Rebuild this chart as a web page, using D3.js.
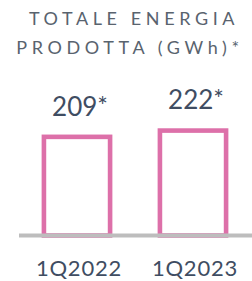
<!DOCTYPE html>
<html>
<head>
<meta charset="utf-8">
<script src="https://cdn.jsdelivr.net/npm/d3@7"></script>
<style>
  body { margin: 0; background: #fff; }
  svg { display: block; }
  .title { font-family: Lato, "Open Sans", sans-serif; font-size: 18px; letter-spacing: 4.6px; fill: #59636e; }
  .valLabel { font-family: Lato, "Open Sans", sans-serif; font-size: 26px; fill: #3f4d62; }
  .catLabel { font-family: Lato, "Open Sans", sans-serif; font-size: 22px; fill: #3f4d62; letter-spacing: 0.8px; }
</style>
</head>
<body>
<script>
(function(){

    //chart data
    var categories = ["1Q2022", "1Q2023"];
    var values = [209, 222];
    var valueNotes = ["*", "*"];
    var titleLines = ["TOTALE ENERGIA", "PRODOTTA (GWh)*"];

    var width = 252,
        height = 281,
        baseline = 235.5,
        strokeW = 4.6;

    var svg = d3.select("body")
        .append("svg")
        .attr("width", width)
        .attr("height", height);

    //title, two lines
    svg.selectAll(".title")
        .data(titleLines)
        .enter()
        .append("text")
        .attr("class", "title")
        .attr("text-anchor", "middle")
        .attr("x", function(d, i){ return i == 0 ? 134 : 130; })
        .attr("y", function(d, i){ return 25 + i * 29; })
        .text(function(d){ return d; });

    //scales
    var x = d3.scaleBand()
        .domain(categories)
        .range([19, 251])
        .paddingInner(0.39)
        .paddingOuter(0.195);

    var y = d3.scaleLinear()
        .domain([0, 250])
        .range([baseline, baseline - 250 * 0.483]);

    //bars: white fill with pink outline
    svg.selectAll(".bar")
        .data(values)
        .enter()
        .append("rect")
        .attr("class", "bar")
        .attr("x", function(d, i){ return x(categories[i]) + strokeW / 2; })
        .attr("width", x.bandwidth() - strokeW)
        .attr("y", function(d){ return y(d) + strokeW / 2; })
        .attr("height", function(d){ return baseline - y(d) - strokeW / 2; })
        .style("fill", "#fff")
        .style("stroke", "#dd70a9")
        .style("stroke-width", strokeW);

    //baseline axis
    var axis = d3.axisBottom(x).tickSize(0).tickPadding(0).tickFormat("");
    var axisG = svg.append("g")
        .attr("transform", "translate(0," + baseline + ")")
        .call(axis);
    axisG.select(".domain").remove();
    axisG.append("line")
        .attr("x1", 19)
        .attr("x2", width)
        .attr("stroke", "#bdbdbd")
        .attr("stroke-width", 4);

    //category labels
    svg.selectAll(".catLabel")
        .data(categories)
        .enter()
        .append("text")
        .attr("class", "catLabel")
        .attr("text-anchor", "middle")
        .attr("x", function(d){ return x(d) + x.bandwidth() / 2 + 2; })
        .attr("y", 276)
        .text(function(d){ return d; });

    //value labels with asterisk
    var vl = svg.selectAll(".valLabel")
        .data(values)
        .enter()
        .append("text")
        .attr("class", "valLabel")
        .attr("text-anchor", "middle")
        .attr("x", function(d, i){ return x(categories[i]) + x.bandwidth() / 2 + 3; })
        .attr("y", function(d){ return y(d) - 19; });
    vl.append("tspan").text(function(d){ return d; });
    vl.append("tspan")
        .attr("dy", -1)
        .style("font-size", "25px")
        .text(function(d, i){ return valueNotes[i]; });

})();
</script>
</body>
</html>
